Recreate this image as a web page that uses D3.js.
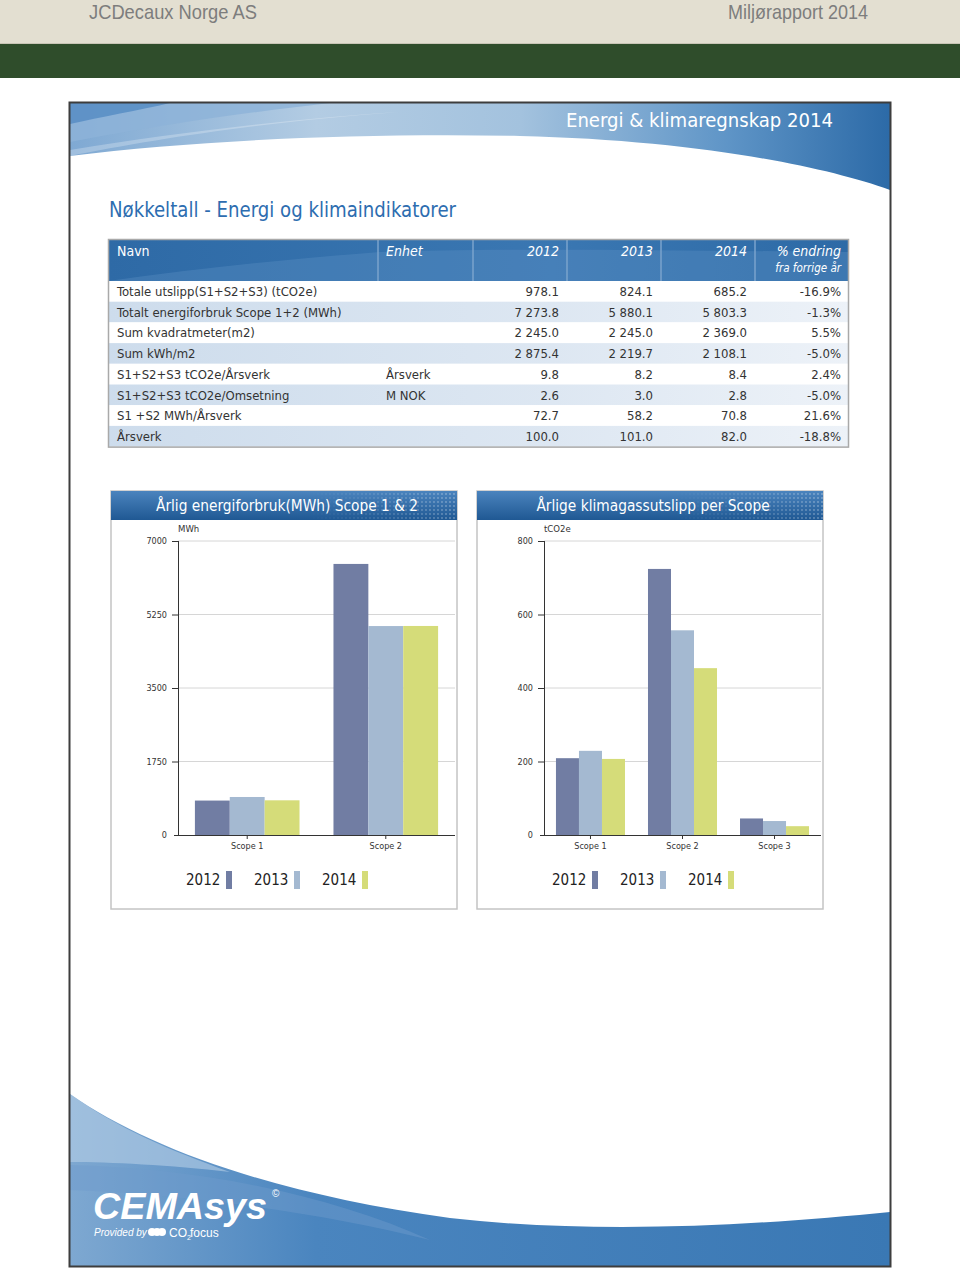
<!DOCTYPE html>
<html><head><meta charset="utf-8">
<script src="https://cdn.jsdelivr.net/npm/d3@7"></script>
<style>
html,body{margin:0;padding:0;background:#fff;}
svg{display:block;}
.cond{font-family:"DejaVu Sans Condensed","DejaVu Sans",sans-serif;font-stretch:condensed;}
</style></head>
<body>
<svg id="page" width="960" height="1270"></svg>
<script>
// ---------- DATA ----------
const years = ["2012", "2013", "2014"];
const yearColors = ["#717da3", "#a4b9d1", "#d5dc79"];

const energyCats = ["Scope 1", "Scope 2"];
const energy2012 = [820, 6454];
const energy2013 = [905, 4975];
const energy2014 = [826, 4977];
const energyTicks = [0, 1750, 3500, 5250, 7000];

const emisCats = ["Scope 1", "Scope 2", "Scope 3"];
const emis2012 = [209, 724, 45];
const emis2013 = [229, 557, 38];
const emis2014 = [207, 454, 24];
const emisTicks = [0, 200, 400, 600, 800];

const tableHeaders = ["Navn", "Enhet", "2012", "2013", "2014", "% endring"];
const rowNames = ["Totale utslipp(S1+S2+S3) (tCO2e)", "Totalt energiforbruk Scope 1+2 (MWh)", "Sum kvadratmeter(m2)", "Sum kWh/m2", "S1+S2+S3 tCO2e/Årsverk", "S1+S2+S3 tCO2e/Omsetning", "S1 +S2 MWh/Årsverk", "Årsverk"];
const rowUnits = ["", "", "", "", "Årsverk", "M NOK", "", ""];
const col2012 = ["978.1", "7 273.8", "2 245.0", "2 875.4", "9.8", "2.6", "72.7", "100.0"];
const col2013 = ["824.1", "5 880.1", "2 245.0", "2 219.7", "8.2", "3.0", "58.2", "101.0"];
const col2014 = ["685.2", "5 803.3", "2 369.0", "2 108.1", "8.4", "2.8", "70.8", "82.0"];
const colChange = ["-16.9%", "-1.3%", "5.5%", "-5.0%", "2.4%", "-5.0%", "21.6%", "-18.8%"];

// ---------- DRAW ----------
const svg = d3.select("#page");
const defs = svg.append("defs");
function lin(id, stops, x2, y2) {
  const g = defs.append("linearGradient").attr("id", id)
    .attr("x1", 0).attr("y1", 0).attr("x2", x2 === undefined ? 1 : x2).attr("y2", y2 === undefined ? 0 : y2);
  stops.forEach(s => g.append("stop").attr("offset", s[0]).attr("stop-color", s[1]));
}
lin("banner", [[0, "#7fa9d3"], [0.3, "#b3cce3"], [0.55, "#a3c2de"], [0.8, "#5f95c7"], [1, "#2c6aa7"]]);
lin("footer", [[0, "#7ea8d1"], [0.3, "#4a85bf"], [1, "#3a78b4"]]);
lin("thead", [[0, "#2e6aa6"], [0.6, "#3a77b2"], [1, "#2d6aa6"]]);
lin("rowalt", [[0, "#cddcec"], [0.6, "#dde7f2"], [1, "#edf2f8"]]);
lin("titlebar", [[0, "#4b84be"], [1, "#1f5893"]], 0, 1);
const pat = defs.append("pattern").attr("id", "dots").attr("width", 4).attr("height", 4).attr("patternUnits", "userSpaceOnUse");
pat.append("circle").attr("cx", 2).attr("cy", 2).attr("r", 0.9).attr("fill", "#ffffff").attr("opacity", 0.35);
lin("dotfade", [[0, "#000"], [1, "#fff"]]);
defs.append("mask").attr("id", "dotmask").attr("maskContentUnits", "objectBoundingBox")
  .append("rect").attr("width", 1).attr("height", 1).attr("fill", "url(#dotfade)");

// top header
svg.append("rect").attr("x", 0).attr("y", 0).attr("width", 960).attr("height", 43).attr("fill", "#e3dfd1");
svg.append("rect").attr("x", 0).attr("y", 43).attr("width", 960).attr("height", 1).attr("fill", "#c9c5b6");
svg.append("rect").attr("x", 0).attr("y", 44).attr("width", 960).attr("height", 34).attr("fill", "#2f4d2b");
svg.append("text").attr("x", 89).attr("y", 19).attr("fill", "#7d7d7d")
  .attr("font-family", "'Liberation Sans Narrow','Liberation Sans',sans-serif").attr("font-size", 21)
  .attr("textLength", 168).attr("lengthAdjust", "spacingAndGlyphs").text("JCDecaux Norge AS");
svg.append("text").attr("x", 868).attr("y", 19).attr("text-anchor", "end").attr("fill", "#7d7d7d")
  .attr("font-family", "'Liberation Sans Narrow','Liberation Sans',sans-serif").attr("font-size", 21)
  .attr("textLength", 140).attr("lengthAdjust", "spacingAndGlyphs").text("Miljørapport 2014");

// box banner
svg.append("path").attr("d", "M70,103 H890 V190 C 820,165 690,140 520,136 C 360,133 200,140 70,156 Z").attr("fill", "url(#banner)");
svg.append("path").attr("d", "M70,103 H330 C 250,112 160,125 70,142 Z").attr("fill", "#8db3d8").attr("opacity", 0.8);
svg.append("path").attr("d", "M70,103 H170 C 140,110 100,117 70,124 Z").attr("fill", "#5a8fc5").attr("opacity", 0.9);
svg.append("path").attr("d", "M70,156 C 150,140 260,122 400,112 C 300,118 180,132 70,150 Z").attr("fill", "#ffffff").attr("opacity", 0.25);
svg.append("text").attr("class", "cond").attr("x", 833).attr("y", 127).attr("text-anchor", "end")
  .attr("fill", "#fff").attr("font-size", 20).attr("textLength", 267).attr("lengthAdjust", "spacingAndGlyphs")
  .text("Energi & klimaregnskap 2014");

// footer wave
svg.append("path").attr("d", "M70,1094 C 150,1150 280,1195 450,1218 C 600,1235 760,1225 890,1212 V1266 H70 Z").attr("fill", "url(#footer)");
svg.append("path").attr("d", "M70,1094 C 120,1130 170,1150 230,1172 C 170,1165 110,1162 70,1162 Z").attr("fill", "#b6cfe6").attr("opacity", 0.6);
svg.append("path").attr("d", "M70,1165 C 200,1168 330,1195 430,1240 C 330,1215 200,1195 70,1190 Z").attr("fill", "#6f9ccc").attr("opacity", 0.45);
svg.append("text").attr("x", 93).attr("y", 1219).attr("fill", "#fff")
  .attr("font-family", "'Liberation Sans',Arial,sans-serif").attr("font-weight", "bold").attr("font-style", "italic")
  .attr("font-size", 37).attr("textLength", 174).attr("lengthAdjust", "spacingAndGlyphs").text("CEMAsys");
svg.append("text").attr("x", 272).attr("y", 1197).attr("fill", "#fff")
  .attr("font-family", "'Liberation Sans',Arial,sans-serif").attr("font-size", 10).text("©");
svg.append("text").attr("x", 94).attr("y", 1236).attr("fill", "#fff")
  .attr("font-family", "'Liberation Sans',Arial,sans-serif").attr("font-style", "italic").attr("font-size", 10).text("Provided by");
[0, 5, 10].forEach(dx => svg.append("circle").attr("cx", 152 + dx).attr("cy", 1232).attr("r", 4).attr("fill", "#fff"));
svg.append("text").attr("x", 169).attr("y", 1237).attr("fill", "#fff")
  .attr("font-family", "'Liberation Sans',Arial,sans-serif").attr("font-size", 12).text("CO").append("tspan").attr("font-size", 7).attr("dy", 3).text("2");
svg.append("text").attr("x", 190).attr("y", 1237).attr("fill", "#fff")
  .attr("font-family", "'Liberation Sans',Arial,sans-serif").attr("font-size", 12).text("focus");

// box border
svg.append("rect").attr("x", 69.5).attr("y", 102.5).attr("width", 821).attr("height", 1164).attr("fill", "none").attr("stroke", "#3d3d3d").attr("stroke-width", 2);

// section title
svg.append("text").attr("class", "cond").attr("x", 109).attr("y", 217).attr("fill", "#2d6db0").attr("font-size", 21)
  .attr("textLength", 347).attr("lengthAdjust", "spacingAndGlyphs").text("Nøkkeltall - Energi og klimaindikatorer");

// ---------- TABLE ----------
const tX0 = 108, tX1 = 849, tY0 = 239, headH = 42, rowH = 20.7;
const colEdges = [tX0, 378, 473, 567, 661, 755, tX1];
const rowY = d3.scaleLinear().domain([0, rowNames.length]).range([tY0 + headH, tY0 + headH + rowH * rowNames.length]);
const tbl = svg.append("g").attr("class", "cond");
tbl.append("rect").attr("x", tX0).attr("y", tY0).attr("width", tX1 - tX0).attr("height", headH).attr("fill", "url(#thead)");
tbl.append("path").attr("d", `M${tX0},${tY0 + headH} C 200,268 300,258 380,252 C 500,248 650,250 ${tX1},252 V${tY0 + headH} Z`)
  .attr("fill", "#5e92c5").attr("opacity", 0.35);
colEdges.slice(1, -1).forEach(x => tbl.append("line").attr("x1", x).attr("x2", x).attr("y1", tY0).attr("y2", tY0 + headH).attr("stroke", "#7aa3cc").attr("stroke-width", 1.5));
const hdrX = [117, 386, 559, 653, 747, 841];
tableHeaders.forEach((h, i) => {
  tbl.append("text").attr("x", hdrX[i]).attr("y", 256).attr("fill", "#fff").attr("font-size", 14)
    .attr("font-style", i === 0 ? "normal" : "italic").attr("text-anchor", i < 2 ? "start" : "end").text(h);
});
tbl.append("text").attr("x", 841).attr("y", 272).attr("fill", "#fff").attr("font-size", 11.5)
  .attr("font-style", "italic").attr("text-anchor", "end").text("fra forrige år");
rowNames.forEach((name, i) => {
  const y = rowY(i);
  tbl.append("rect").attr("x", tX0).attr("y", y).attr("width", tX1 - tX0).attr("height", rowH)
    .attr("fill", i % 2 === 1 ? "url(#rowalt)" : "#fff");
  const cells = [name, rowUnits[i], col2012[i], col2013[i], col2014[i], colChange[i]];
  cells.forEach((c, j) => {
    tbl.append("text").attr("x", hdrX[j]).attr("y", y + 15).attr("fill", "#333").attr("font-size", 13)
      .attr("text-anchor", j < 2 ? "start" : "end").text(c);
  });
});
tbl.append("rect").attr("x", tX0 + 0.5).attr("y", tY0 + 0.5).attr("width", tX1 - tX0 - 1).attr("height", rowY(rowNames.length) - tY0)
  .attr("fill", "none").attr("stroke", "#a9a9a9").attr("stroke-width", 1.5);

// ---------- CHARTS ----------
function chart(opts) {
  const g = svg.append("g").attr("class", "cond");
  const px = opts.px, py = 491, pw = 346, ph = 418;
  g.append("rect").attr("x", px).attr("y", py).attr("width", pw).attr("height", ph).attr("fill", "#fff").attr("stroke", "#c4c4c4").attr("stroke-width", 1.5);
  g.append("rect").attr("x", px).attr("y", py).attr("width", pw).attr("height", 29).attr("fill", "url(#titlebar)");
  g.append("rect").attr("x", px + pw - 150).attr("y", py).attr("width", 150).attr("height", 29).attr("fill", "url(#dots)").attr("mask", "url(#dotmask)");
  g.append("text").attr("x", opts.titleX).attr("y", py + 20).attr("text-anchor", "middle").attr("fill", "#fff").attr("font-size", 15.3).text(opts.title);

  const y = d3.scaleLinear().domain([0, opts.ticks[opts.ticks.length - 1]]).range([835, 541]);
  const x0 = d3.scaleBand().domain(opts.cats).range([opts.ax, opts.ax + 277]).paddingInner(opts.pi).paddingOuter(opts.po);
  const x1 = d3.scaleBand().domain(years).range([0, x0.bandwidth()]);

  // gridlines
  g.append("g").selectAll("line").data(opts.ticks.slice(1)).join("line")
    .attr("x1", opts.ax).attr("x2", opts.ax + 277).attr("y1", d => y(d)).attr("y2", d => y(d)).attr("stroke", "#d6d6d6").attr("stroke-width", 1);

  // bars
  const series = [opts.v2012, opts.v2013, opts.v2014];
  opts.cats.forEach((c, ci) => {
    years.forEach((yr, yi) => {
      const v = series[yi][ci];
      g.append("rect").attr("x", x0(c) + x1(yr)).attr("y", y(v)).attr("width", x1.bandwidth()).attr("height", y(0) - y(v)).attr("fill", yearColors[yi]);
    });
  });

  // y axis
  const yAxis = g.append("g").attr("transform", `translate(${opts.ax},0)`)
    .call(d3.axisLeft(y).tickValues(opts.ticks).tickSize(6).tickPadding(5).tickFormat(d3.format("d")));
  yAxis.select(".domain").attr("stroke", "#333").attr("d", `M0.5,835V541`);
  yAxis.selectAll(".tick line").attr("stroke", "#333");
  yAxis.selectAll("text").attr("font-family", "'DejaVu Sans Condensed','DejaVu Sans',sans-serif").attr("font-size", 9).attr("fill", "#333");
  yAxis.selectAll(".tick").filter(d => d === 0).select("line").remove();
  // x axis
  const xAxis = g.append("g").attr("transform", "translate(0,835)")
    .call(d3.axisBottom(x0).tickSize(4).tickPadding(4));
  xAxis.select(".domain").attr("stroke", "#333").attr("d", `M${opts.ax - 4},0.5H${opts.ax + 277}`);
  xAxis.selectAll(".tick line").attr("stroke", "#333");
  xAxis.selectAll("text").attr("font-family", "'DejaVu Sans Condensed','DejaVu Sans',sans-serif").attr("font-size", 9).attr("fill", "#333");

  g.append("text").attr("x", opts.ax).attr("y", 532).attr("font-size", 9.5).attr("fill", "#333").text(opts.unit);

  // legend
  years.forEach((yr, i) => {
    g.append("text").attr("x", opts.legX[i]).attr("y", 885).attr("font-family", "'DejaVu Sans',sans-serif").attr("font-size", 15).attr("fill", "#222").text(yr);
    g.append("rect").attr("x", opts.legX[i] + 40).attr("y", 871).attr("width", 6).attr("height", 18).attr("fill", yearColors[i]);
  });
}

chart({ px: 111, title: "Årlig energiforbruk(MWh) Scope 1 & 2", titleX: 287, cats: energyCats, v2012: energy2012, v2013: energy2013, v2014: energy2014,
  ticks: energyTicks, ax: 178, pi: 0.245, po: 0.122, unit: "MWh", legX: [186, 254, 322] });
chart({ px: 477, title: "Årlige klimagassutslipp per Scope", titleX: 653, cats: emisCats, v2012: emis2012, v2013: emis2013, v2014: emis2014,
  ticks: emisTicks, ax: 544, pi: 0.25, po: 0.13, unit: "tCO2e", legX: [552, 620, 688] });
</script>
</body></html>
